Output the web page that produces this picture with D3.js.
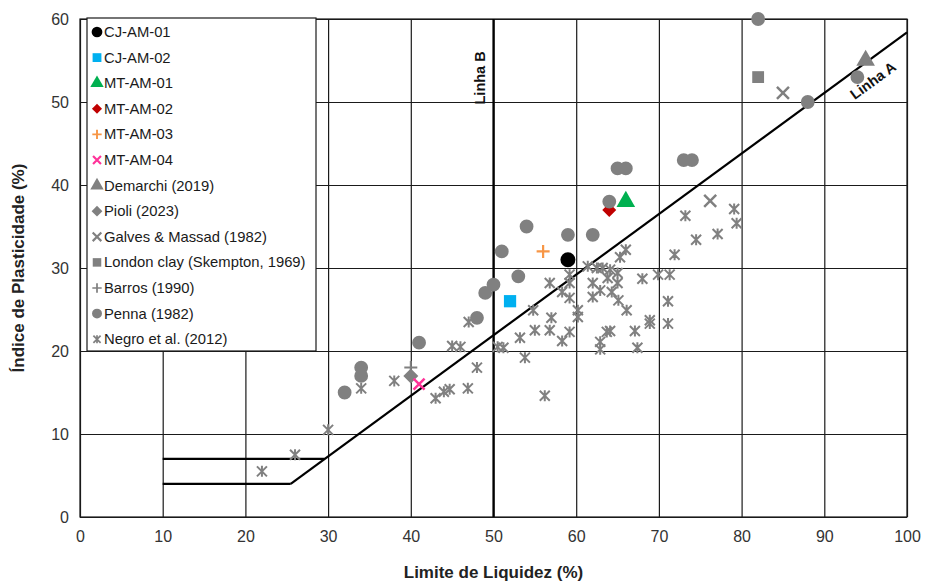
<!DOCTYPE html>
<html>
<head>
<meta charset="utf-8">
<script src="https://cdn.jsdelivr.net/npm/d3@7"></script>
<style>
  body { margin: 0; background: #fff; }
  text { font-family: "Liberation Sans", Arial, sans-serif; }
</style>
</head>
<body>
<figure id="chart" style="margin:0"></figure>
<script>
// data: [LL, PI]
var cjAm01 = [[59, 31]];
var cjAm02 = [[52, 26]];
var mtAm01 = [[66, 38]];
var mtAm02 = [[64, 37]];
var mtAm03 = [[56, 32]];
var mtAm04 = [[41, 16]];
var demarchi = [[95, 55]];
var pioli = [[40, 17]];
var galves = [[76.2, 38.1], [85, 51.1]];
var londonClay = [[82, 53]];
var barros = [[40, 18]];
var penna = [[82, 60], [88, 50], [94, 53], [73, 43], [74, 43], [65, 42], [66, 42], [64, 38],
  [59, 34], [62, 34], [54, 35], [51, 32], [53, 29], [50, 28], [49, 27], [48, 24], [41, 21],
  [34, 18], [34, 17], [32, 15]];
var negro = [[22, 5.5], [26, 7.5], [30, 10.5], [34, 15.5], [38, 16.4], [43, 14.3], [44, 15.1],
  [44.7, 15.4], [46.9, 15.5], [45, 20.6], [46, 20.5], [47, 23.5], [48, 18], [50.5, 20.5],
  [51.2, 20.4], [53.2, 21.6], [53.8, 19.2], [54.8, 24.9], [55, 22.5], [56.8, 22.5], [56.2, 14.6],
  [56.8, 28.2], [57, 24], [58.3, 27.1], [58.3, 21.2], [59.2, 29.2], [59.2, 28.2], [59.2, 26.4],
  [59.2, 22.3], [60.2, 24.9], [60.2, 24.1], [61.4, 30.2], [62, 28.2], [62, 26.5], [62.5, 30],
  [63.2, 30], [62.9, 27.3], [62.9, 21.1], [62.9, 20.2], [63.7, 22.3], [64.1, 29.8], [63.8, 28.8],
  [64.3, 27.1], [65, 29.4], [65, 28.2], [65.1, 26.1], [65.3, 31.3], [66, 32.2], [66.1, 24.9],
  [64.1, 22.4], [67.1, 22.4], [67.4, 20.4], [68, 28.7], [68.9, 23.7], [68.9, 23.3], [69.9, 29.2],
  [71.3, 29.2], [71.1, 26], [71.1, 23.3], [71.9, 31.6], [73.2, 36.3], [74.5, 33.4], [77.1, 34.1],
  [79.1, 37.1], [79.4, 35.4]];

// reference lines
var linhaA = [[25.48, 4], [100, 58.4]];
var limite4 = [[10, 4], [25.48, 4]];
var limite7 = [[10, 7], [29.59, 7]];
var linhaB = [[50, 0], [50, 60]];

var xTicks = [0, 10, 20, 30, 40, 50, 60, 70, 80, 90, 100];
var yTicks = [0, 10, 20, 30, 40, 50, 60];

var dimensions = {
  width: 925,
  height: 584,
  margin: { top: 19, right: 18, bottom: 67, left: 80 }
};
dimensions.boundedWidth = dimensions.width - dimensions.margin.left - dimensions.margin.right;
dimensions.boundedHeight = dimensions.height - dimensions.margin.top - dimensions.margin.bottom;

var svg = d3.select("figure#chart")
  .append("svg")
  .attr("width", dimensions.width)
  .attr("height", dimensions.height);

var g = svg.append("g")
  .attr("transform", `translate(${dimensions.margin.left},${dimensions.margin.top})`);

var xScale = d3.scaleLinear().domain([0, 100]).range([0, dimensions.boundedWidth]);
var yScale = d3.scaleLinear().domain([0, 60]).range([dimensions.boundedHeight, 0]);

// gridlines
g.append("g")
  .attr("transform", `translate(0,${dimensions.boundedHeight})`)
  .call(d3.axisBottom(xScale).tickValues(xTicks).tickSize(-dimensions.boundedHeight).tickFormat(""))
  .call(a => a.select(".domain").remove())
  .selectAll("line").attr("stroke", "#1a1a1a").attr("stroke-width", 1.2);

g.append("g")
  .call(d3.axisLeft(yScale).tickValues(yTicks).tickSize(-dimensions.boundedWidth).tickFormat(""))
  .call(a => a.select(".domain").remove())
  .selectAll("line").attr("stroke", "#1a1a1a").attr("stroke-width", 1.2);

g.append("rect")
  .attr("width", dimensions.boundedWidth)
  .attr("height", dimensions.boundedHeight)
  .attr("fill", "none")
  .attr("stroke", "#1a1a1a")
  .attr("stroke-width", 1.2);

// tick labels
var xAxis = g.append("g")
  .attr("transform", `translate(0,${dimensions.boundedHeight})`)
  .call(d3.axisBottom(xScale).tickValues(xTicks).tickSize(0).tickPadding(14))
  .call(a => a.select(".domain").remove());
xAxis.selectAll("text").attr("font-size", 16).attr("fill", "#333").style("font-family", "Liberation Sans, Arial");

var yAxis = g.append("g")
  .call(d3.axisLeft(yScale).tickValues(yTicks).tickSize(0).tickPadding(11))
  .call(a => a.select(".domain").remove());
yAxis.selectAll("text").attr("font-size", 16).attr("fill", "#333").style("font-family", "Liberation Sans, Arial");

// lines
var lineGen = d3.line().x(d => xScale(d[0])).y(d => yScale(d[1]));
[linhaA, limite4, limite7, linhaB].forEach(function (pts) {
  g.append("path")
    .attr("d", lineGen(pts))
    .attr("fill", "none")
    .attr("stroke", "#000")
    .attr("stroke-width", 2.2);
});

g.append("text")
  .attr("transform", `translate(${xScale(50) - 9},${yScale(52.9)}) rotate(-90)`)
  .attr("text-anchor", "middle")
  .attr("font-size", 14.5)
  .attr("font-weight", "bold")
  .attr("fill", "#111")
  .text("Linha  B");

var angleA = Math.atan2(yScale(4) - yScale(58.4), xScale(100) - xScale(25.48)) * 180 / Math.PI;
g.append("text")
  .attr("transform", `translate(${xScale(95.9)},${yScale(52.6)}) rotate(${-angleA})`)
  .attr("text-anchor", "middle")
  .attr("dy", "0.35em")
  .attr("font-size", 14.5)
  .attr("font-weight", "bold")
  .attr("fill", "#111")
  .text("Linha  A");

// marker shapes
var xPath = function (s) {
  var h = s / 2;
  return `M${-h},${-h}L${h},${h}M${-h},${h}L${h},${-h}`;
};
var asteriskPath = function (s) {
  var h = s / 2;
  return `M${-h},${-h}L${h},${h}M${-h},${h}L${h},${-h}M0,${-h * 1.1}L0,${h * 1.1}`;
};
var plusPath = function (s) {
  var h = s / 2;
  return `M${-h},0L${h},0M0,${-h}L0,${h}`;
};
// square turned 45 degrees, like the spreadsheet diamond
var diamondPath = function (s) {
  var h = s / 2;
  return `M0,${-h}L${h},0L0,${h}L${-h},0Z`;
};

var gray = "#808080";
var series = [
  { name: "Negro et al. (2012)", data: negro, kind: "stroke", path: asteriskPath, size: 10, color: gray, width: 2 },
  { name: "Galves & Massad (1982)", data: galves, kind: "stroke", path: xPath, size: 12, color: gray, width: 2.5 },
  { name: "MT-AM-02", data: mtAm02, kind: "shape", path: diamondPath, size: 14, color: "#c00000" },
  { name: "Penna (1982)", data: penna, kind: "fill", symbol: d3.symbolCircle, area: 150, color: gray },
  { name: "London clay (Skempton, 1969)", data: londonClay, kind: "fill", symbol: d3.symbolSquare, area: 140, color: gray },
  { name: "Barros (1990)", data: barros, kind: "stroke", path: plusPath, size: 13, color: gray, width: 2 },
  { name: "Pioli (2023)", data: pioli, kind: "shape", path: diamondPath, size: 15, color: gray },
  { name: "Demarchi (2019)", data: demarchi, kind: "fill", symbol: d3.symbolTriangle, area: 150, color: gray },
  { name: "CJ-AM-01", data: cjAm01, kind: "fill", symbol: d3.symbolCircle, area: 175, color: "#000000" },
  { name: "CJ-AM-02", data: cjAm02, kind: "fill", symbol: d3.symbolSquare, area: 150, color: "#00b0f0" },
  { name: "MT-AM-01", data: mtAm01, kind: "fill", symbol: d3.symbolTriangle, area: 150, color: "#00b050" },
  { name: "MT-AM-03", data: mtAm03, kind: "stroke", path: plusPath, size: 13, color: "#f79646", width: 2.2 },
  { name: "MT-AM-04", data: mtAm04, kind: "stroke", path: xPath, size: 11, color: "#ff3399", width: 2.5 }
];

function drawMarker(sel, s, scale) {
  if (s.kind === "fill") {
    sel.append("path")
      .attr("d", d3.symbol().type(s.symbol).size(s.area * scale * scale)())
      .attr("fill", s.color);
  } else if (s.kind === "shape") {
    sel.append("path")
      .attr("d", s.path(s.size * scale))
      .attr("fill", s.color);
  } else {
    sel.append("path")
      .attr("d", s.path(s.size * scale))
      .attr("fill", "none")
      .attr("stroke", s.color)
      .attr("stroke-width", s.width * Math.min(1, scale + 0.15));
  }
}

series.forEach(function (s) {
  g.append("g").selectAll("g")
    .data(s.data)
    .enter()
    .append("g")
    .attr("transform", d => `translate(${xScale(d[0])},${yScale(d[1])})`)
    .each(function () { drawMarker(d3.select(this), s, 1); });
});

// legend
var legendOrder = ["CJ-AM-01", "CJ-AM-02", "MT-AM-01", "MT-AM-02", "MT-AM-03", "MT-AM-04",
  "Demarchi (2019)", "Pioli (2023)", "Galves & Massad (1982)", "London clay (Skempton, 1969)",
  "Barros (1990)", "Penna (1982)", "Negro et al. (2012)"];

var legend = svg.append("g").attr("transform", "translate(87,18)");
legend.append("rect")
  .attr("width", 229)
  .attr("height", 333)
  .attr("fill", "#fff")
  .attr("stroke", "#1a1a1a")
  .attr("stroke-width", 1.2);

legendOrder.forEach(function (name, i) {
  var s = series.find(d => d.name === name);
  var row = legend.append("g").attr("transform", `translate(0,${14 + i * 25.6})`);
  var m = row.append("g").attr("transform", "translate(10,0)");
  drawMarker(m, s, 0.72);
  row.append("text")
    .attr("x", 17)
    .attr("y", 5)
    .attr("font-size", 14.8)
    .attr("fill", "#1a1a1a")
    .text(name);
});

// axis titles
svg.append("text")
  .attr("x", dimensions.margin.left + dimensions.boundedWidth / 2)
  .attr("y", 578)
  .attr("text-anchor", "middle")
  .attr("font-size", 17)
  .attr("font-weight", "bold")
  .attr("fill", "#222")
  .text("Limite de Liquidez (%)");

svg.append("text")
  .attr("transform", `translate(24,${dimensions.margin.top + dimensions.boundedHeight / 2}) rotate(-90)`)
  .attr("text-anchor", "middle")
  .attr("font-size", 17)
  .attr("font-weight", "bold")
  .attr("fill", "#222")
  .text("Índice de Plasticidade (%)");
</script>
</body>
</html>
